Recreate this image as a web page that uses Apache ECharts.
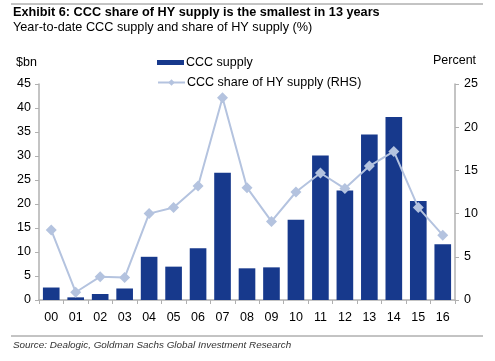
<!DOCTYPE html>
<html><head><meta charset="utf-8">
<script src="https://cdn.jsdelivr.net/npm/echarts@6/dist/echarts.min.js"></script>
<style>html,body{margin:0;padding:0;background:#fff}#c{width:495px;height:361px}</style>
</head><body><div id="c"></div>
<script>
const categories = ['00','01','02','03','04','05','06','07','08','09','10','11','12','13','14','15','16'];
const cccSupply = [2.6,0.55,1.25,2.4,9.0,6.95,10.8,26.5,6.6,6.8,16.7,30.1,22.8,34.5,38.1,20.6,11.6];
const cccShare = [8.1,0.9,2.7,2.6,10.0,10.7,13.2,23.4,13.0,9.1,12.5,14.7,12.9,15.5,17.2,10.7,7.5];
const leftTicks = {min:0,max:45,interval:5};
const rightTicks = {min:0,max:25,interval:5};

const font = '"Liberation Sans", Arial, sans-serif';
const chart = echarts.init(document.getElementById('c'), null, {renderer:'canvas'});
const axisGray = '#b0b0b0';
chart.setOption({
  animation:false,
  textStyle:{fontFamily:font},
  grid:{left:39, right:40, top:84, bottom:61},
  legend:[
    {data:[{name:'CCC supply', icon:'rect'}], left:152, top:51, itemWidth:27, itemHeight:5, itemGap:0,
     textStyle:{fontFamily:font, fontSize:12.5, color:'#000', padding:[0,0,0,-3]}},
    {data:['CCC share of HY supply (RHS)'], left:152, top:71, itemWidth:27, itemHeight:8,
     textStyle:{fontFamily:font, fontSize:12.5, color:'#000', padding:[0,0,0,-3]}}
  ],
  xAxis:{type:'category', data:categories,
    axisLine:{lineStyle:{color:axisGray, width:1.5}},
    axisTick:{show:true, length:4, lineStyle:{color:axisGray}},
    axisLabel:{color:'#000', fontSize:12.5, fontFamily:font, margin:11}},
  yAxis:[
    {type:'value', min:leftTicks.min, max:leftTicks.max, interval:leftTicks.interval,
     axisLine:{show:true, lineStyle:{color:axisGray, width:1.5}},
     axisTick:{show:true, length:4, lineStyle:{color:axisGray}},
     splitLine:{show:false},
     axisLabel:{color:'#000', fontSize:12.5, fontFamily:font, margin:8}},
    {type:'value', min:rightTicks.min, max:rightTicks.max, interval:rightTicks.interval, position:'right',
     axisLine:{show:true, lineStyle:{color:axisGray, width:1.5}},
     axisTick:{show:true, length:4, lineStyle:{color:axisGray}},
     splitLine:{show:false},
     axisLabel:{color:'#000', fontSize:12.5, fontFamily:font, margin:9}}
  ],
  series:[
    {name:'CCC supply', type:'bar', data:cccSupply, barWidth:'68%', yAxisIndex:0,
     itemStyle:{color:'#17398c'}},
    {name:'CCC share of HY supply (RHS)', type:'line', data:cccShare, yAxisIndex:1,
     symbol:'diamond', symbolSize:11, showSymbol:true,
     lineStyle:{color:'#b4c3df', width:2}, itemStyle:{color:'#b4c3df'}, z:3}
  ],
  graphic:[
    {type:'line', shape:{x1:11,y1:4,x2:483,y2:4}, style:{stroke:'#888', lineWidth:1}},
    {type:'text', left:13, top:6, style:{text:'Exhibit 6: CCC share of HY supply is the smallest in 13 years', font:'bold 12.7px '+font, fill:'#000'}},
    {type:'text', left:13, top:21, style:{text:'Year-to-date CCC supply and share of HY supply (%)', font:'12.7px '+font, fill:'#000'}},
    {type:'text', left:16, top:56, style:{text:'$bn', font:'12.5px '+font, fill:'#000'}},
    {type:'text', left:433, top:54, style:{text:'Percent', font:'12.5px '+font, fill:'#000'}},
    {type:'line', shape:{x1:11,y1:336,x2:483,y2:336}, style:{stroke:'#888', lineWidth:1}},
    {type:'text', left:13, top:340, style:{text:'Source: Dealogic, Goldman Sachs Global Investment Research', font:'italic 9.9px '+font, fill:'#333'}}
  ]
});
</script></body></html>
